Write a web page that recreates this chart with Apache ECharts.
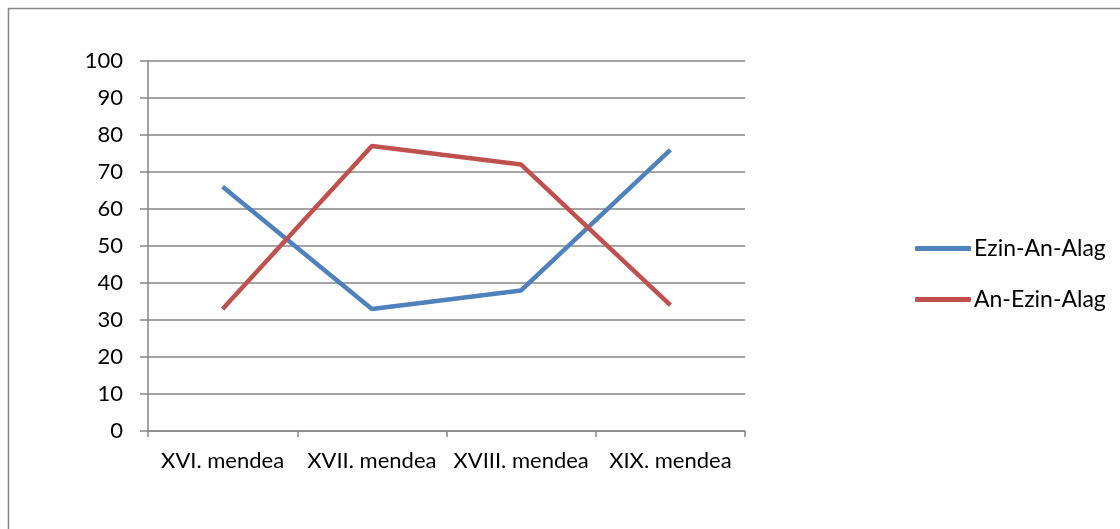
<!DOCTYPE html>
<html><head><meta charset="utf-8">
<script src="https://cdn.jsdelivr.net/npm/echarts@6/dist/echarts.min.js"></script>
<style>html,body{margin:0;padding:0;background:#fff}#c{width:1120px;height:529px}</style>
</head><body><div id="c"></div>
<script>
const categories = ['XVI. mendea', 'XVII. mendea', 'XVIII. mendea', 'XIX. mendea'];
const ezinAnAlag = [66, 33, 38, 76];
const anEzinAlag = [33, 77, 72, 34];
const seriesNames = ['Ezin-An-Alag', 'An-Ezin-Alag'];
const yTicks = [0, 10, 20, 30, 40, 50, 60, 70, 80, 90, 100];

const FONT = 'Lato';
const chart = echarts.init(document.getElementById('c'), null, {renderer: 'canvas'});
chart.setOption({
  animation: false,
  backgroundColor: '#fff',
  textStyle: {fontFamily: FONT},
  graphic: [{
    type: 'rect', shape: {x: 8.5, y: 8.5, width: 1200, height: 600},
    style: {fill: 'none', stroke: '#868686', lineWidth: 1.5}, silent: true
  }],
  grid: {left: 148, right: 375, top: 61, bottom: 98, containLabel: false},
  legend: {
    orient: 'vertical', left: 910, top: 232, itemGap: 28,
    itemWidth: 56, itemHeight: 5, icon: 'roundRect',
    textStyle: {fontFamily: FONT, fontSize: 23, color: '#000', padding: [0, 0, 0, -2]},
    data: seriesNames
  },
  xAxis: {
    type: 'category', data: categories, boundaryGap: true,
    axisLine: {lineStyle: {color: '#868686', width: 1.5}},
    axisTick: {show: true, length: 6, interval: 0, alignWithLabel: false, lineStyle: {color: '#868686', width: 1.5}},
    axisLabel: {fontFamily: FONT, fontSize: 22, color: '#000', margin: 19, interval: 0}
  },
  yAxis: {
    type: 'value', min: yTicks[0], max: yTicks[yTicks.length - 1], interval: 10,
    axisLine: {show: true, lineStyle: {color: '#868686', width: 1.5}},
    axisTick: {show: true, length: 8, lineStyle: {color: '#868686', width: 1.5}},
    splitLine: {show: true, lineStyle: {color: '#868686', width: 1.5}},
    axisLabel: {fontFamily: FONT, fontSize: 22, color: '#000', margin: 25}
  },
  series: [
    {name: seriesNames[0], type: 'line', data: ezinAnAlag, symbol: 'none',
     lineStyle: {color: '#4F81BD', width: 4.5}, itemStyle: {color: '#4F81BD'}},
    {name: seriesNames[1], type: 'line', data: anEzinAlag, symbol: 'none',
     lineStyle: {color: '#C0504D', width: 4.5}, itemStyle: {color: '#C0504D'}}
  ]
});
</script></body></html>
